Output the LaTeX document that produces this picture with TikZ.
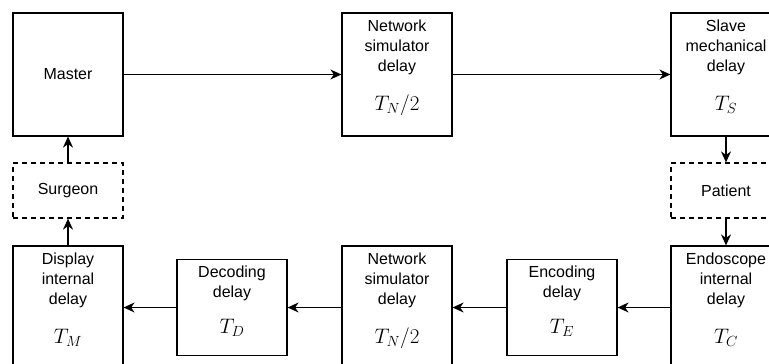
\documentclass[tikz,border=0pt]{standalone}
\usepackage{fix-cm}
\usepackage{fontspec}
\setmainfont{Liberation Sans}
\usetikzlibrary{arrows.meta,positioning}

\newcommand{\delayvar}[1]{{\fontsize{21}{24}\selectfont$#1$}}

\tikzset{
  blk/.style={draw, line width=1.2pt, minimum width=110pt, minimum height=123pt, inner sep=0pt},
  smallblk/.style={blk, minimum height=96pt},
  humanblk/.style={blk, dash pattern=on 5pt off 4pt, minimum height=55pt},
  txt/.style={align=center, inner sep=0pt, font=\fontsize{16}{20}\selectfont},
  flow/.style={line width=1.2pt, -{Stealth[length=11pt,width=10pt,inset=3.5pt]}},
}

\begin{document}
\begin{tikzpicture}[x=1pt,y=1pt]
        \useasboundingbox (0,0) rectangle (769,-364);

        % horni rada
        \node[blk, txt] (master) at (68,-74.5) {Master};
        \node[blk] (netA) at (397,-74.5) {};
        \node[blk] (slave) at (726,-74.5) {};
        \node[txt, below=7pt of netA.north] (netAt) {Network\\simulator\\delay\\[19pt]\delayvar{T_N/2}};
        \node[txt, below=7pt of slave.north] (slavet) {Slave\\mechanical\\delay\\[19pt]\delayvar{T_S}};

        % lidi
        \node[humanblk, txt] (surgeon) at (68,-190.5) {Surgeon};
        \node[humanblk, txt] (patient) at (726,-190.5) {Patient};

        % dolni rada
        \node[blk] (display) at (68,-307.5) {};
        \node[smallblk] (decoding) at (232,-307.5) {};
        \node[blk] (netB) at (397,-307.5) {};
        \node[smallblk] (encoding) at (562,-307.5) {};
        \node[blk] (endoscope) at (726,-307.5) {};
        \node[txt, below=7pt of display.north] (displayt) {Display\\internal\\delay\\[19pt]\delayvar{T_M}};
        \node[txt, below=7pt of decoding.north] (decodingt) {Decoding\\delay\\[16pt]\delayvar{T_D}};
        \node[txt, below=7pt of netB.north] (netBt) {Network\\simulator\\delay\\[19pt]\delayvar{T_N/2}};
        \node[txt, below=7pt of encoding.north] (encodingt) {Encoding\\delay\\[16pt]\delayvar{T_E}};
        \node[txt, below=7pt of endoscope.north] (endoscopet) {Endoscope\\internal\\delay\\[19pt]\delayvar{T_C}};

        % sipky
        \draw[flow] (master) -- (netA);
        \draw[flow] (netA) -- (slave);
        \draw[flow] (slave) -- (patient);
        \draw[flow] (patient) -- (endoscope);
        \draw[flow] (endoscope) -- (encoding);
        \draw[flow] (encoding) -- (netB);
        \draw[flow] (netB) -- (decoding);
        \draw[flow] (decoding) -- (display);
        \draw[flow] (display) -- (surgeon);
        \draw[flow] (surgeon) -- (master);
\end{tikzpicture}
\end{document}
